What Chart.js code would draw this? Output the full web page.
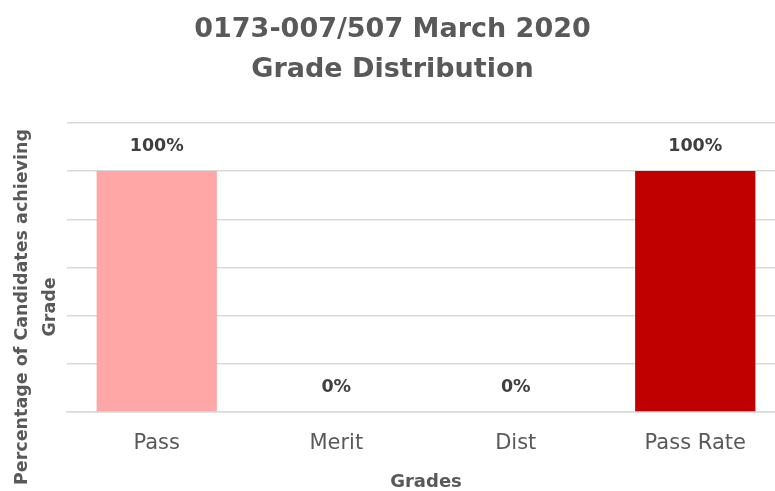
<!DOCTYPE html>
<html>
<head>
<meta charset="utf-8">
<script src="https://cdn.jsdelivr.net/npm/chart.js@4"></script>
<style>
  html, body { margin: 0; padding: 0; background: #fff; overflow: hidden; }
  /* the plot runs a little past the right edge in the original, so the canvas is wider than the window */
  #wrap { width: 785px; height: 491px; position: relative; }
</style>
</head>
<body>
<div id="wrap"><canvas id="gradeChart"></canvas></div>
<script>
const categories = ['Pass', 'Merit', 'Dist', 'Pass Rate'];
const percentages = [100, 0, 0, 100];
const barColors = ['#FFA7A7', '#FFA7A7', '#FFA7A7', '#C00000'];
const titleLines = ['0173-007/507 March 2020', 'Grade Distribution'];
const yTitleLines = ['Percentage of Candidates achieving', 'Grade'];
const xTitle = 'Grades';

const grey = '#595959';
const boldFont = "'DejaVu Sans', sans-serif";

// % labels above each bar
const valueLabels = {
    id: 'valueLabels',
    afterDatasetsDraw(chart) {
        const ctx = chart.ctx;
        const meta = chart.getDatasetMeta(0);
        ctx.save();
        ctx.font = "bold 17.5px " + boldFont;
        ctx.fillStyle = '#404040';
        ctx.textAlign = 'center';
        ctx.textBaseline = 'middle';
        meta.data.forEach((bar, i) => {
            ctx.fillText(percentages[i] + '%', bar.x, bar.y - 25);
        });
        ctx.restore();
    }
};

// y axis title, two centred lines, a bit lower than the plot centre like the original
const yAxisTitle = {
    id: 'yAxisTitle',
    afterDraw(chart) {
        const ctx = chart.ctx;
        ctx.save();
        ctx.translate(36, 307);
        ctx.rotate(-Math.PI / 2);
        ctx.font = "bold 17.5px " + boldFont;
        ctx.fillStyle = grey;
        ctx.textAlign = 'center';
        ctx.textBaseline = 'middle';
        ctx.fillText(yTitleLines[0], 0, -14);
        ctx.fillText(yTitleLines[1], 0, 14);
        ctx.restore();
    }
};

new Chart(document.getElementById('gradeChart'), {
    type: 'bar',
    data: {
        labels: categories,
        datasets: [{
            data: percentages,
            backgroundColor: barColors,
            categoryPercentage: 0.67,
            barPercentage: 1
        }]
    },
    options: {
        responsive: true, maintainAspectRatio: false, animation: false,
        layout: { padding: { left: 0, right: 0, top: 10, bottom: 0 } },
        plugins: {
            legend: { display: false },
            tooltip: { enabled: false },
            title: {
                display: true, text: titleLines, color: grey,
                font: { family: boldFont, size: 27, weight: 'bold', lineHeight: 1.48 },
                padding: { top: 0, bottom: 33 }
            }
        },
        scales: {
            y: {
                min: 0, max: 120,
                ticks: { display: false, stepSize: 20 },
                grid: { color: '#d9d9d9', drawTicks: false, lineWidth: 1.5 },
                border: { display: false },
                afterFit(scale) { scale.width = 67; }   // room for the hand-drawn axis title
            },
            x: {
                ticks: { color: grey, font: { family: "'DejaVu Sans', sans-serif", size: 21, lineHeight: 1 }, padding: 21 },
                grid: { display: false, drawTicks: false },
                border: { color: '#d9d9d9', width: 1.5 },
                title: {
                    display: true, text: xTitle, color: grey,
                    font: { family: boldFont, size: 18, weight: 'bold', lineHeight: 1 },
                    padding: { top: -2, bottom: 0 }
                }
            }
        }
    },
    plugins: [valueLabels, yAxisTitle]
});
</script>
</body>
</html>
